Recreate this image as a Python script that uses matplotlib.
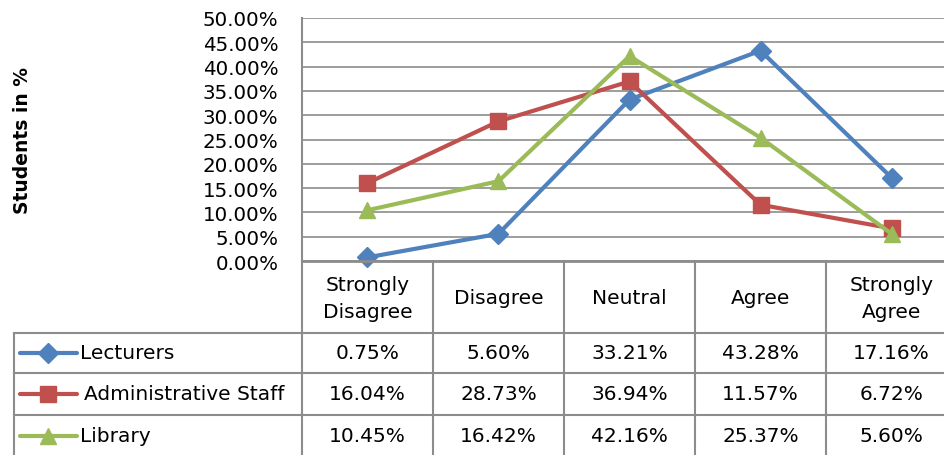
import matplotlib
matplotlib.use("Agg")
import matplotlib.pyplot as plt
from matplotlib.ticker import FuncFormatter

# Data
categories = ["Strongly\nDisagree", "Disagree", "Neutral", "Agree", "Strongly\nAgree"]
series_names = ["Lecturers", "Administrative Staff", "Library"]
lecturers = [0.75, 5.60, 33.21, 43.28, 17.16]
admin_staff = [16.04, 28.73, 36.94, 11.57, 6.72]
library = [10.45, 16.42, 42.16, 25.37, 5.60]
y_ticks = [0, 5, 10, 15, 20, 25, 30, 35, 40, 45, 50]

# Styles
colors = ["#4F81BD", "#C0504D", "#9BBB59"]
markers = ["D", "s", "^"]
msizes = [10, 11, 12]
grid_col = "#8C8C8C"
font = "DejaVu Sans"
plt.rcParams["font.family"] = font

W, H = 945, 456
fig = plt.figure(figsize=(W / 100, H / 100), dpi=100)

# plot area in pixels
px_left, px_top, px_bot = 302, 19, 262
col_w = 131
ax = fig.add_axes([px_left / W, (H - px_bot) / H, 5 * col_w / W, (px_bot - px_top) / H])

x = list(range(len(categories)))
all_series = [lecturers, admin_staff, library]
for vals, c, m, ms in zip(all_series, colors, markers, msizes):
    ax.plot(x, vals, color=c, lw=3.0, marker=m, markersize=ms, clip_on=False,
            solid_joinstyle="miter")

ax.set_xlim(-0.5, 4.5)
ax.set_ylim(0, 50)
ax.set_yticks(y_ticks)
ax.yaxis.set_major_formatter(FuncFormatter(lambda v, p: f"{v:.2f}%"))
ax.tick_params(axis="y", length=0, pad=17, labelsize=14.3)
ax.set_xticks([])
ax.grid(axis="y", color=grid_col, lw=1.2)
ax.set_axisbelow(True)
for s in ["top", "right"]:
    ax.spines[s].set_visible(False)
ax.spines["left"].set_color(grid_col)
ax.spines["left"].set_linewidth(1.5)
ax.spines["bottom"].set_color(grid_col)
ax.spines["bottom"].set_linewidth(2)

fig.text(23 / W, 1 - 140 / H, "Students in %", rotation=90, ha="center", va="center",
         fontsize=13.5, fontweight="bold")

# data table underneath
leg_w = (px_left - 14) / col_w
tab = fig.add_axes([14 / W, 0, (px_left - 14 + 5 * col_w) / W, (H - px_bot) / H])
tab.set_xlim(-0.5 - leg_w, 4.5)
tab.set_ylim(H - px_bot, 0)
tab.axis("off")

row_lines = [72, 112, 154]
lc = dict(color=grid_col, lw=1.5, clip_on=False)
for y in row_lines:
    tab.plot([-0.5 - leg_w, 4.5], [y, y], **lc)
tab.plot([-0.5 - leg_w, -0.5 - leg_w], [72, H - px_bot], **lc)
for b in [-0.5, 0.5, 1.5, 2.5, 3.5]:
    tab.plot([b, b], [0, H - px_bot], **lc)

for i, cat in enumerate(categories):
    tab.text(i, 37, cat, ha="center", va="center", fontsize=14.5, linespacing=1.55)

row_mid = [92, 133, 175]
def px2x(px):
    return (px - px_left) / col_w - 0.5

for r, (name, vals) in enumerate(zip(series_names, all_series)):
    ym = row_mid[r]
    tab.plot([px2x(20), px2x(77)], [ym, ym], color=colors[r], lw=3.0,
             solid_capstyle="round", clip_on=False)
    tab.plot([px2x(48)], [ym], color=colors[r], marker=markers[r],
             markersize=msizes[r], clip_on=False)
    tx = px2x(84) if r == 1 else px2x(80)
    tab.text(tx, ym, name, ha="left", va="center", fontsize=14.5)
    for i, v in enumerate(vals):
        tab.text(i, ym, f"{v:.2f}%", ha="center", va="center", fontsize=14.5)

fig.savefig("out.png", dpi=100)
